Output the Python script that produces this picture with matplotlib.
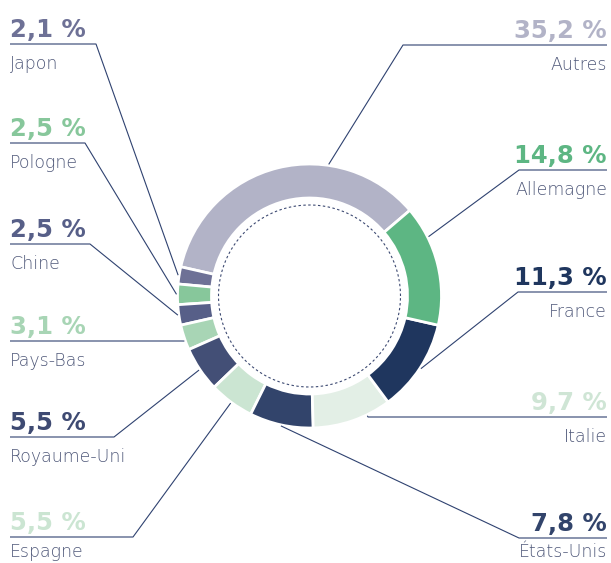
import numpy as np
import matplotlib
matplotlib.use("Agg")
import matplotlib.pyplot as plt

# shares in counter-clockwise order, starting from the top-right edge of "Autres"
countries = ["Autres", "Japon", "Pologne", "Chine", "Pays-Bas", "Royaume-Uni",
             "Espagne", "États-Unis", "Italie", "France", "Allemagne"]
shares = [35.2, 2.1, 2.5, 2.5, 3.1, 5.5, 5.5, 7.8, 9.7, 11.3, 14.8]
labels = ["35,2 %", "2,1 %", "2,5 %", "2,5 %", "3,1 %", "5,5 %",
          "5,5 %", "7,8 %", "9,7 %", "11,3 %", "14,8 %"]
ring_colors = ["#b2b3c7", "#6e7196", "#87c79b", "#575f88", "#a8d5b5", "#434f76",
               "#cbe5d2", "#32446b", "#e3efe6", "#1f365e", "#5db683"]
text_colors = ["#b2b3c7", "#6e7196", "#87c79b", "#575f88", "#a8d5b5", "#3e4a72",
               "#cbe5d2", "#32446b", "#cfe5d5", "#1f365e", "#5db683"]

W, H = 611, 563
fig = plt.figure(figsize=(W / 100, H / 100), dpi=100)
ax = fig.add_axes([0, 0, 1, 1])

cx, cy = 309.5, H - 296
r_out, ring_w = 132, 34
start = 40.5

wedges, _ = ax.pie(shares, colors=ring_colors, startangle=start, counterclock=True,
                   radius=r_out, center=(cx, cy), frame=True,
                   wedgeprops=dict(width=ring_w, edgecolor="white", linewidth=2))

# dashed inner circle
t = np.linspace(0, 2 * np.pi, 400)
ax.plot(cx + 91 * np.cos(t), cy + 91 * np.sin(t), ls=(0, (2.2, 2.2)),
        color="#3d4a72", lw=0.8)

# label layout: side, underline y (pixels from top), elbow x, anchor angle override
layout = {
    "Autres": ("R", 45, 403, 81.7),
    "Allemagne": ("R", 170, 519, 26.5),
    "France": ("R", 292, 518, None),
    "Italie": ("R", 417, 368, -64.2),
    "États-Unis": ("R", 538, 519, None),
    "Japon": ("L", 44, 96, None),
    "Pologne": ("L", 143, 85, None),
    "Chine": ("L", 244, 90, None),
    "Pays-Bas": ("L", 341, 182, -160.2),
    "Royaume-Uni": ("L", 437, 114, None),
    "Espagne": ("L", 537, 133, None),
}

line_c = "#2f4270"
name_c = "#4f5879"
for w, name, lab, tc in zip(wedges, countries, labels, text_colors):
    side, uy, ex, ang = layout[name]
    if ang is None:
        ang = (w.theta1 + w.theta2) / 2
    ax_x = cx + (r_out + 1) * np.cos(np.radians(ang))
    ax_y = cy + (r_out + 1) * np.sin(np.radians(ang))
    y = H - uy
    if side == "L":
        x0, ha, xt = 10, "left", 10
    else:
        x0, ha, xt = 607, "right", 607
    ax.plot([x0, ex, ax_x], [y, y, ax_y], color=line_c, lw=0.8,
            solid_capstyle="butt")
    ax.text(xt, y + 7, lab, ha=ha, va="baseline", fontsize=17.5,
            fontweight="bold", color=tc)
    # keep the bottom row inside the canvas
    name_y = max(y - 25, 6)
    ax.text(xt, name_y, name, ha=ha, va="baseline", fontsize=12.5,
            fontweight="light", color=name_c)

ax.set_xlim(0, W)
ax.set_ylim(0, H)
ax.set_aspect("equal")
ax.axis("off")
fig.savefig("out.png", dpi=100)
